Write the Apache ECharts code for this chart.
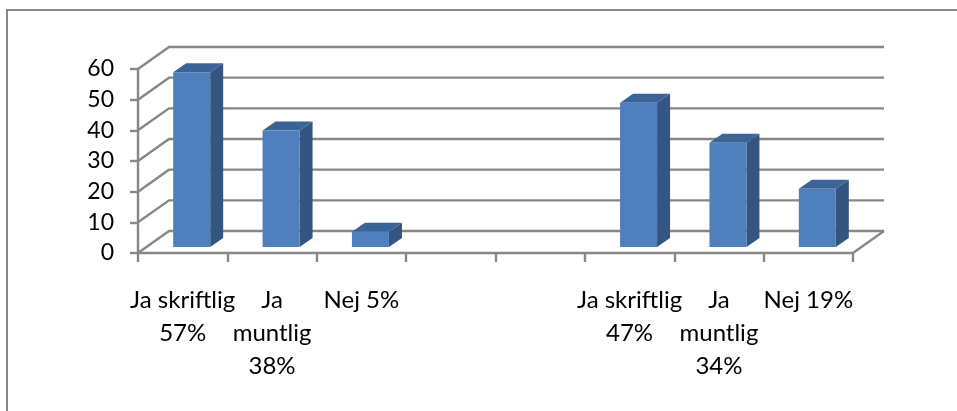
<!DOCTYPE html>
<html>
<head>
<meta charset="utf-8">
<style>
  html, body { margin: 0; padding: 0; background: #ffffff; }
  #chart { width: 957px; height: 411px; }
</style>
<script src="https://cdn.jsdelivr.net/npm/echarts@6/dist/echarts.min.js"></script>
</head>
<body>
<div id="chart"></div>
<script>
// Survey answers, two groups of three bars separated by two empty slots
const categories = ['Ja skriftlig\n57%', 'Ja\nmuntlig\n38%', 'Nej 5%', '', '', 'Ja skriftlig\n47%', 'Ja\nmuntlig\n34%', 'Nej 19%'];
const values = [57, 38, 5, null, null, 47, 34, 19];
const yTicks = [0, 10, 20, 30, 40, 50, 60];

// 3D look: offset of the back wall and of the bar column depth
const WALL_DX = 31, WALL_DY = -22;
const BAR_SHIFT_X = 9, BAR_SHIFT_Y = -6;
const BAR_DX = 13, BAR_DY = -9;
const LINE = '#878787';
const LINE_W = 2.4;
const FONT = 'Lato';

const chart = echarts.init(document.getElementById('chart'), null, { renderer: 'canvas' });

const barData = values
  .map((v, i) => (v === null ? null : [i, v]))
  .filter(d => d !== null);

const option = {
  backgroundColor: '#ffffff',
  animation: false,
  graphic: [{
    type: 'rect',
    shape: { x: 7, y: 10, width: 1000, height: 500 },
    style: { fill: null, stroke: LINE, lineWidth: 2 },
    silent: true
  }],
  grid: { left: 138, right: 104, top: 69, bottom: 158, containLabel: false },
  xAxis: {
    type: 'category',
    data: categories,
    boundaryGap: true,
    axisLine: { show: true, lineStyle: { color: LINE, width: LINE_W } },
    axisTick: { show: true, length: 9, interval: 0, lineStyle: { color: LINE, width: LINE_W } },
    axisLabel: {
      interval: 0, margin: 31, color: '#000', fontFamily: FONT, fontSize: 24, lineHeight: 33, align: 'center'
    },
    splitLine: { show: false }
  },
  yAxis: {
    type: 'value',
    min: 0, max: 60, interval: 10,
    axisLine: { show: true, lineStyle: { color: LINE, width: LINE_W } },
    axisTick: { show: true, length: 8, lineStyle: { color: LINE, width: LINE_W } },
    axisLabel: { margin: 24, color: '#000', fontFamily: FONT, fontSize: 23 },
    splitLine: { show: false }
  },
  series: [
    {
      // back wall gridlines and left wall / floor edges
      type: 'custom',
      z: 1,
      silent: true,
      data: yTicks.map(v => [0, v]),
      renderItem: function (params, api) {
        const v = api.value(1);
        const y = api.coord([0, v])[1];
        const x0 = params.coordSys.x;
        const x1 = x0 + params.coordSys.width;
        const children = [{
          type: 'polyline',
          shape: { points: [[x0, y], [x0 + WALL_DX, y + WALL_DY], [x1 + WALL_DX, y + WALL_DY]] },
          style: { stroke: LINE, lineWidth: LINE_W, fill: null }
        }];
        if (v === 0) {
          children.push({
            type: 'line',
            shape: { x1: x1, y1: y, x2: x1 + WALL_DX, y2: y + WALL_DY },
            style: { stroke: LINE, lineWidth: LINE_W }
          });
        }
        return { type: 'group', children: children };
      }
    },
    {
      // 3D columns: front face, side face and top cap
      type: 'custom',
      z: 3,
      data: barData,
      renderItem: function (params, api) {
        const i = api.value(0);
        const v = api.value(1);
        const base = api.coord([i, 0]);
        const top = api.coord([i, v]);
        const band = api.size([1, 0])[0];
        const w = band * 0.414;
        const cx = base[0] + BAR_SHIFT_X;
        const yb = base[1] + BAR_SHIFT_Y;
        const yt = top[1] + BAR_SHIFT_Y;
        const xl = cx - w / 2, xr = cx + w / 2;
        return {
          type: 'group',
          children: [
            {
              type: 'polygon',
              shape: { points: [[xr, yb], [xr + BAR_DX, yb + BAR_DY], [xr + BAR_DX, yt + BAR_DY], [xr, yt]] },
              style: { fill: '#33557F' }
            },
            {
              type: 'polygon',
              shape: { points: [[xl, yt], [xr, yt], [xr + BAR_DX, yt + BAR_DY], [xl + BAR_DX, yt + BAR_DY]] },
              style: { fill: '#3C6395' }
            },
            {
              type: 'rect',
              shape: { x: xl, y: yt, width: w, height: yb - yt },
              style: { fill: '#4F80BD' }
            }
          ]
        };
      }
    }
  ]
};

chart.setOption(option);
</script>
</body>
</html>
